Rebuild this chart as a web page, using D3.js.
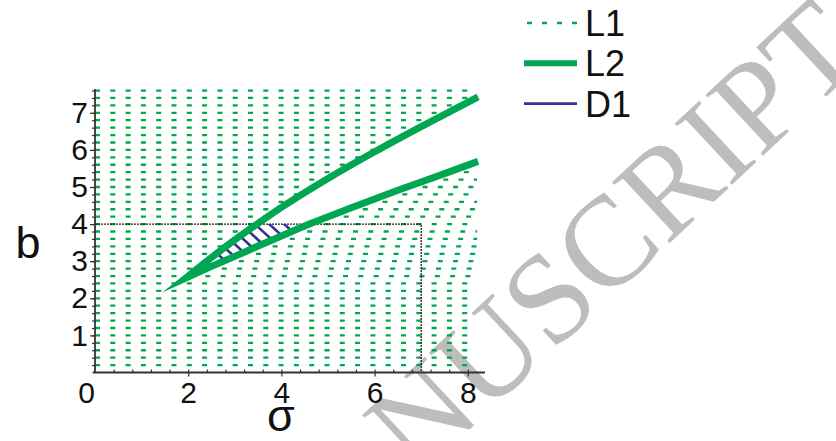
<!DOCTYPE html>
<html>
<head>
<meta charset="utf-8">
<script src="https://cdn.jsdelivr.net/npm/d3@7/dist/d3.min.js"></script>
<style>
  body { margin: 0; background: #fff; }
  text { font-family: "Liberation Sans", Arial, sans-serif; fill: #111; }
</style>
</head>
<body>
<svg id="chart" width="836" height="441"></svg>
<script>
// ticks
var xTicks = [2, 4, 6, 8]
var yTicks = [1, 2, 3, 4, 5, 6, 7]

// L2 : the two boundary curves (sigma, b), they meet at the first point
var upperSigma = [1.95, 2.5, 3.0, 3.5, 4.0, 5.0, 6.0, 7.0, 8.22]
var upperB     = [2.55, 3.1, 3.575, 4.02, 4.45, 5.23, 5.95, 6.63, 7.43]
var lowerSigma = [1.95, 2.5, 3.0, 3.5, 4.0, 4.6, 5.5, 6.5, 7.5, 8.22]
var lowerB     = [2.55, 2.86, 3.13, 3.41, 3.68, 4.0, 4.44, 4.91, 5.36, 5.69]

// D1 : hatch lines, where each one meets b = 4
var hatchAt4 = [4.06, 3.74, 3.43, 3.13, 2.83, 2.53, 2.23, 1.93]
var hatchSlope = -1.15

// box drawn with the thin dark line
var boxSigma = 7
var boxB = 4

var fieldMaxSigma = 8.2
var fieldMaxB = 7.6

var legendNames = ["L1", "L2", "D1"]

var green = "#00a651",
    navy = "#3b2e95"

var svg = d3.select("#chart")

var x = d3.scaleLinear().domain([0, 8]).range([95, 467.8])
var y = d3.scaleLinear().domain([0, 7]).range([372.5, 112.8])

// watermark behind everything
svg.append("text")
    .attr("transform", "translate(869,57) rotate(-43)")
    .attr("text-anchor", "end")
    .style("font-family", "'Liberation Serif', 'Times New Roman', serif")
    .style("font-size", "128px")
    .style("fill", "#bdbdbd")
    .text("MANUSCRIPT")

// inverse lookups sigma(b) along each curve
var upperAt = d3.scaleLinear().domain(upperB).range(upperSigma)
var lowerAt = d3.scaleLinear().domain(lowerB).range(lowerSigma)

// L1 : dotted horizontal rows outside the wedge
var segs = []
d3.range(0.2, fieldMaxB + 0.01, 0.2).forEach(function(b) {
    var top = upperB[upperB.length - 1],
        lowTop = lowerB[lowerB.length - 1]
    if (b < upperB[0] || b > top) {
        segs.push([0, fieldMaxSigma, b])
        return
    }
    segs.push([0, upperAt(b), b])
    if (b <= lowTop) segs.push([lowerAt(b), fieldMaxSigma, b])
})

svg.append("g")
    .attr("class", "field")
    .selectAll("line")
    .data(segs)
    .enter().append("line")
    .attr("x1", function(d) { return x(d[0]) })
    .attr("x2", function(d) { return x(d[1]) })
    .attr("y1", function(d) { return y(d[2]) })
    .attr("y2", function(d) { return y(d[2]) })
    .style("stroke", green)
    .style("stroke-width", 2.3)
    .style("stroke-dasharray", "5,10.3")

// thin dark box
svg.append("path")
    .attr("d", "M" + x(0) + "," + y(boxB) + "H" + x(boxSigma) + "V" + y(0))
    .style("fill", "none")
    .style("stroke", "#222")
    .style("stroke-width", 1.3)
    .style("stroke-dasharray", "2,1")

// D1 hatch, clipped to the wedge below b = 4
var clipPts = []
upperSigma.forEach(function(s, i) { if (upperB[i] < boxB) clipPts.push([s, upperB[i]]) })
clipPts.push([upperAt(boxB), boxB])
clipPts.push([lowerAt(boxB), boxB])
for (var i = lowerSigma.length - 1; i > 0; i--) {
    if (lowerB[i] < boxB) clipPts.push([lowerSigma[i], lowerB[i]])
}

svg.append("clipPath")
    .attr("id", "wedge")
    .append("polygon")
    .attr("points", clipPts.map(function(p) { return x(p[0]) + "," + y(p[1]) }).join(" "))

svg.append("g")
    .attr("clip-path", "url(#wedge)")
    .selectAll("line")
    .data(hatchAt4)
    .enter().append("line")
    .attr("x1", function(d) { return x(d + (4.3 - boxB) / hatchSlope) })
    .attr("y1", y(4.3))
    .attr("x2", function(d) { return x(d + (1.8 - boxB) / hatchSlope) })
    .attr("y2", y(1.8))
    .style("stroke", navy)
    .style("stroke-width", 2.6)

// L2 as one path so the tip is sharp
var upperPts = upperSigma.map(function(s, i) { return [s, upperB[i]] }),
    lowerPts = lowerSigma.map(function(s, i) { return [s, lowerB[i]] })

var line = d3.line()
    .x(function(d) { return x(d[0]) })
    .y(function(d) { return y(d[1]) })
    .curve(d3.curveMonotoneX)

svg.append("path")
    .attr("d", line(upperPts.slice().reverse()) + "L" + line(lowerPts).slice(1))
    .style("fill", "none")
    .style("stroke", green)
    .style("stroke-width", 7)
    .style("stroke-linejoin", "miter")
    .style("stroke-miterlimit", 30)

// axes
var axisColor = "#333"

svg.append("g")
    .attr("transform", "translate(" + x(0) + ",0)")
    .call(d3.axisLeft(y).tickValues(yTicks).tickSize(5).tickPadding(2).tickFormat(d3.format("d")))
svg.append("g")
    .attr("transform", "translate(" + x(0) + ",0)")
    .call(d3.axisLeft(y).tickValues(d3.range(0.2, 7.61, 0.2)).tickSize(3).tickFormat(""))
svg.append("g")
    .attr("transform", "translate(0," + y(0) + ")")
    .call(d3.axisBottom(x).tickValues(xTicks).tickSize(4).tickPadding(5).tickFormat(d3.format("d")))
svg.append("g")
    .attr("transform", "translate(0," + y(0) + ")")
    .call(d3.axisBottom(x).tickValues(d3.range(0.4, 8.3, 0.4)).tickSize(-3).tickFormat(""))

svg.selectAll(".domain").remove()
svg.selectAll(".tick line").style("stroke", axisColor).style("stroke-width", 1.2)
svg.selectAll(".tick text")
    .style("font-size", "30px")
    .style("fill", "#111")
    .style("font-family", "'Liberation Sans', Arial, sans-serif")

svg.append("text")
    .attr("x", x(0))
    .attr("y", y(0) + 30)
    .attr("text-anchor", "end")
    .style("font-size", "30px")
    .text("0")

svg.append("line")
    .attr("x1", x(0)).attr("x2", x(0))
    .attr("y1", y(0)).attr("y2", y(7.64))
    .style("stroke", axisColor).style("stroke-width", 1.8)
svg.append("line")
    .attr("x1", x(-0.05)).attr("x2", x(8.37))
    .attr("y1", y(0)).attr("y2", y(0))
    .style("stroke", axisColor).style("stroke-width", 1.8)

// axis titles
svg.append("text")
    .attr("x", 28)
    .attr("y", 258)
    .attr("text-anchor", "middle")
    .style("font-size", "45px")
    .text("b")

svg.append("text")
    .attr("x", 281)
    .attr("y", 431)
    .attr("text-anchor", "middle")
    .style("font-size", "45px")
    .text("σ")

// legend
var legend = svg.append("g").attr("class", "legend")
var rowsL = legend.selectAll("g")
    .data(legendNames)
    .enter().append("g")
    .attr("transform", function(d, i) { return "translate(0," + (36 + i * 40.3) + ")" })

rowsL.append("line")
    .attr("x1", function(d, i) { return i == 0 ? 527 : 524 })
    .attr("x2", 577)
    .attr("y1", -13).attr("y2", -13)
    .style("stroke", function(d, i) { return i == 2 ? navy : green })
    .style("stroke-width", function(d, i) { return i == 1 ? 6 : (i == 0 ? 2.3 : 2.6) })
    .style("stroke-dasharray", function(d, i) { return i == 0 ? "5,10" : null })

rowsL.append("text")
    .attr("x", 585)
    .attr("y", 0)
    .style("font-size", "36px")
    .text(function(d) { return d })
</script>
</body>
</html>
